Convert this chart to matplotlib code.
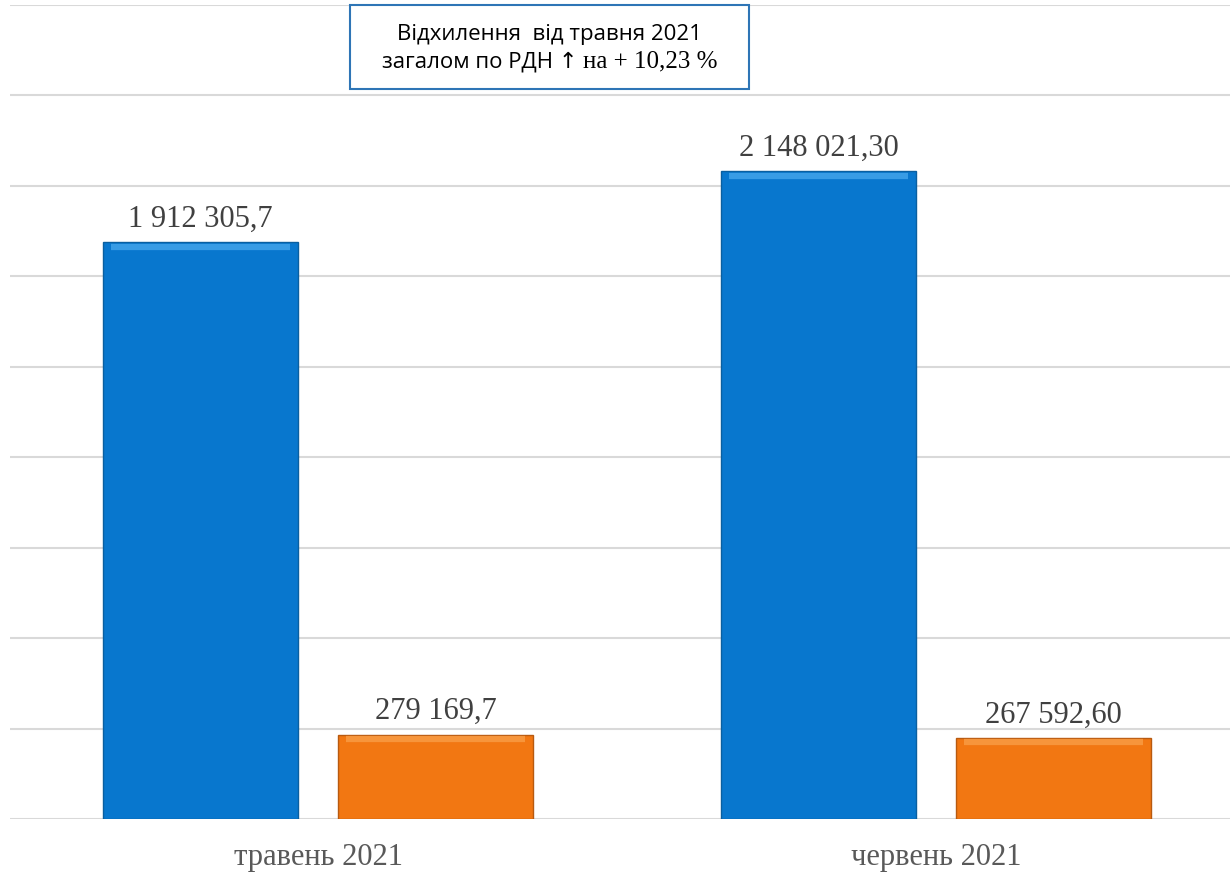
import matplotlib.pyplot as plt
import numpy as np
from matplotlib.patches import Rectangle
from matplotlib.transforms import offset_copy

# Data
categories = ['травень 2021', 'червень 2021']
series_a = [1912305.7, 2148021.30]
series_b = [279169.7, 267592.60]
labels_a = ['1 912 305,7', '2 148 021,30']
labels_b = ['279 169,7', '267 592,60']
note_line1 = 'Відхилення  від травня 2021'
note_line2_sans = 'загалом по РДН ↑ '
note_line2_serif = 'на + 10,23 %'

blue = '#0877CE'
orange = '#F27712'
text_grey = '#404040'

fig = plt.figure(figsize=(12.3, 8.75), dpi=100)
ax = fig.add_axes([10 / 1230, (875 - 819) / 875, 1220 / 1230, (819 - 5) / 875])

x = np.arange(len(categories))
width = 0.315
off = 0.19

bars_a = ax.bar(x - off, series_a, width=width, color=blue, edgecolor='#0A5FA0', linewidth=1.0, zorder=3)
bars_b = ax.bar(x + off, series_b, width=width, color=orange, edgecolor='#B85A10', linewidth=1.0, zorder=3)

# soft light band just inside the top edge, hinting at the bevel
band = offset_copy(ax.transData, fig=fig, x=0, y=-3.0, units='points')
for bars, col in ((bars_a, '#49A9EE'), (bars_b, '#F9A04A')):
    for b in bars:
        ax.plot([b.get_x() + 0.012, b.get_x() + b.get_width() - 0.012],
                [b.get_height()] * 2, color=col, lw=4.5, alpha=0.75, zorder=4,
                solid_capstyle='butt', transform=band)

for bars, labs in ((bars_a, labels_a), (bars_b, labels_b)):
    for b, lab in zip(bars, labs):
        ax.annotate(lab, (b.get_x() + b.get_width() / 2, b.get_height()),
                    xytext=(0, 11.5), textcoords='offset points',
                    ha='center', va='baseline', fontsize=22,
                    family='Liberation Serif', color=text_grey)

ax.set_xlim((10 - 318) / 618, (1230 - 318) / 618)
ax.set_ylim(0, 2700000)
ax.set_yticks(np.arange(0, 2700001, 300000))
ax.yaxis.grid(True, color='#D9D9D9', linewidth=1.5, zorder=0)
ax.tick_params(axis='y', left=False, labelleft=False)
ax.set_xticks(x)
ax.set_xticklabels(categories, fontsize=22, family='Liberation Serif', color='#595959')
ax.tick_params(axis='x', length=0, pad=17)
for s in ax.spines.values():
    s.set_visible(False)

# note box at the top
bx0, by0, bx1, by1 = 350, 5, 749, 89
fig.patches.append(Rectangle((bx0 / 1230, 1 - by1 / 875), (bx1 - bx0) / 1230, (by1 - by0) / 875,
                             transform=fig.transFigure, facecolor='white',
                             edgecolor='#2E75B6', linewidth=1.5, zorder=5))
cx = (bx0 + bx1) / 2 / 1230
fig.text(cx, 1 - 40 / 875, note_line1, ha='center', va='baseline', fontsize=16,
         family=['Open Sans', 'DejaVu Sans'], color='black', zorder=6)

renderer = fig.canvas.get_renderer()
t1 = fig.text(0, 1 - 67 / 875, note_line2_sans, ha='left', va='baseline', fontsize=16,
              family=['Open Sans', 'DejaVu Sans'], color='black', zorder=6)
t2 = fig.text(0, 1 - 67 / 875, note_line2_serif, ha='left', va='baseline', fontsize=18,
              family='Liberation Serif', color='black', zorder=6)
w1 = t1.get_window_extent(renderer).width / fig.bbox.width
w2 = t2.get_window_extent(renderer).width / fig.bbox.width
start = cx - (w1 + w2) / 2
t1.set_x(start)
t2.set_x(start + w1)

fig.savefig('out.png', dpi=100, facecolor='white')
